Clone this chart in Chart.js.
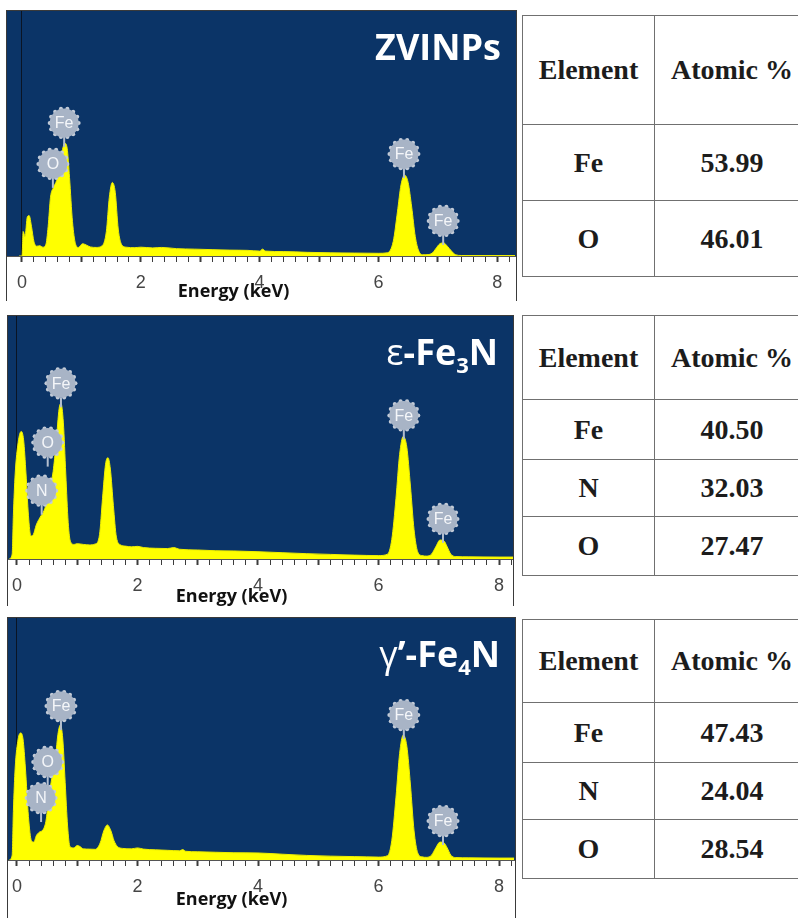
<!DOCTYPE html>
<html>
<head>
<meta charset="utf-8">
<script src="https://cdn.jsdelivr.net/npm/chart.js@4.4.1/dist/chart.umd.min.js"></script>
<style>
body{margin:0;background:#fff;width:798px;height:918px;overflow:hidden;position:relative;}
.panel{position:absolute;border:1px solid #3a3a3a;border-bottom:none;}
.panel canvas{display:block;}
table{position:absolute;width:285px;table-layout:fixed;border-collapse:collapse;font-family:"Liberation Serif","Times New Roman",serif;font-weight:bold;font-size:28px;color:#1c1c1c;}
td{border:1.5px solid #707070;text-align:center;vertical-align:middle;padding:0;white-space:nowrap;}
</style>
</head>
<body>
<div class="panel" style="left:6px;top:10px;"><canvas id="zvi" width="509" height="290"></canvas></div>
<div class="panel" style="left:7px;top:315px;"><canvas id="eps" width="505" height="290"></canvas></div>
<div class="panel" style="left:7px;top:617px;"><canvas id="gam" width="507" height="300"></canvas></div>
<table id="t1" style="left:522px;top:15px;"></table>
<table id="t2" style="left:522px;top:315px;"></table>
<table id="t3" style="left:522px;top:619px;"></table>
<script>
// spectra (energy in keV, counts in arbitrary units)
const zviKeV = [-0.05,0,0.02,0.05,0.09,0.12,0.16,0.2,0.25,0.3,0.35,0.4,0.44,0.48,0.53,0.57,0.62,0.67,0.72,0.76,0.8,0.85,0.9,0.95,1.02,1.08,1.15,1.25,1.35,1.42,1.47,1.52,1.57,1.62,1.68,1.75,1.9,2,2.2,2.35,2.6,2.9,3.2,3.5,3.8,4,4.05,4.1,4.4,4.8,5.2,5.6,6,6.15,6.25,6.32,6.38,6.44,6.5,6.56,6.62,6.68,6.75,6.85,6.92,6.98,7.05,7.1,7.16,7.23,7.3,7.4,8.3];
const zviCounts = [0,0,10,8,16,16.5,12,6,4,4.2,3.6,4.5,12,24,28,30,34,42,46,44,32,14,5,3.5,5,4.5,3.7,3.5,4.2,10,24,30,26,11,4.5,3.6,3.4,3.6,3.3,3.5,3,2.8,2.6,2.4,2.3,2,2.8,2,1.8,1.5,1.3,1.2,1.1,1.3,6,18,29,33,30,20,8,2,0.5,0.6,1.5,3.5,5.2,5.3,4,2,0.5,0.2,0.2];

const epsKeV = [-0.13,-0.08,-0.06,-0.03,0.02,0.07,0.11,0.15,0.19,0.23,0.27,0.32,0.38,0.45,0.5,0.55,0.6,0.65,0.7,0.73,0.77,0.81,0.85,0.89,0.95,1,1.1,1.2,1.3,1.37,1.42,1.47,1.51,1.55,1.6,1.65,1.72,1.8,1.9,2,2.1,2.3,2.5,2.6,2.7,3,3.3,3.6,4,4.4,4.8,5.2,5.6,6,6.15,6.22,6.29,6.35,6.41,6.47,6.53,6.59,6.65,6.72,6.8,6.88,6.95,7.02,7.08,7.14,7.2,7.28,7.5,8,8.25];
const epsCounts = [0,2,18,35,48,52.5,49,35,18,9.5,10,14,17,20,24,30,36,48,62,64,56,35,15,7,6,6.3,6,5.8,6.2,10,25,39,41.7,37,22,9,5.8,5.3,5,5.2,4.7,4.4,4.3,4.7,4,3.7,3.4,3.3,3,2.6,2.2,1.9,1.6,1.4,2,8,25,43,50.4,46,30,12,3,1.4,1.2,2,5,7.8,7.6,5,2,1,0.9,0.8,0.8];

const gamKeV = [-0.13,-0.08,-0.06,-0.03,0.02,0.06,0.1,0.14,0.19,0.24,0.28,0.32,0.37,0.43,0.48,0.53,0.58,0.63,0.68,0.72,0.76,0.8,0.84,0.88,0.94,1,1.05,1.1,1.2,1.3,1.38,1.44,1.5,1.56,1.61,1.67,1.75,1.9,2,2.1,2.3,2.5,2.7,2.75,2.8,3,3.3,3.6,4,4.4,4.8,5.2,5.6,6,6.15,6.22,6.29,6.35,6.41,6.47,6.53,6.59,6.65,6.72,6.8,6.88,6.95,7.02,7.08,7.14,7.2,7.28,7.5,8,8.25];
const gamCounts = [0,2,20,38,50,52.5,50,38,18,8,7.4,10,11.5,12.4,16,26,34,40,52,55.8,50,32,14,5.5,5,6,5.5,4.6,4.5,4.4,7,12,14.5,12,8,5.5,4.8,4.6,5,4.5,4.2,4,3.8,4.3,3.6,3.4,3.2,3,2.9,2.4,1.9,1.6,1.4,1.2,1.8,8,26,44,51.6,47,31,12,3,1.3,1.1,2,5,7.4,7.2,5,2,1,0.9,0.8,0.8];

// element markers: symbol, energy, marker height
const zviMarkEl = ['Fe','O','Fe','Fe'];
const zviMarkKeV = [0.71,0.52,6.43,7.09];
const zviMarkCounts = [54.3,37.6,41.6,14.3];
const epsMarkEl = ['Fe','O','N','Fe','Fe'];
const epsMarkKeV = [0.73,0.51,0.41,6.42,7.07];
const epsMarkCounts = [72.3,47.9,28.1,59.1,16.5];
const gamMarkEl = ['Fe','O','N','Fe','Fe'];
const gamMarkKeV = [0.73,0.51,0.40,6.42,7.07];
const gamMarkCounts = [63.6,40.5,25.6,59.9,16.1];

const tickLabels = [0,2,4,6,8];
const axisTitle = 'Energy (keV)';

// tables
const tableHeader = ['Element','Atomic %'];
const zviElements = ['Fe','O'];
const zviAtomic = ['53.99','46.01'];
const epsElements = ['Fe','N','O'];
const epsAtomic = ['40.50','32.03','27.47'];
const gamElements = ['Fe','N','O'];
const gamAtomic = ['47.43','24.04','28.54'];

const minorTicks = [];
for (let k = 0; k <= 41; k++) minorTicks.push(+(k * 0.2).toFixed(1));

function drawTitle(ctx, str, right, base) {
  // '_3' means subscript 3
  const toks = [];
  for (let i = 0; i < str.length; i++) {
    if (str[i] === '_') { toks.push({t: str[i + 1], sub: true}); i++; }
    else toks.push({t: str[i], greek: /[\u0370-\u03ff]/.test(str[i])});
  }
  const fontOf = tk => tk.sub ? 'bold 22px "Open Sans"' : (tk.greek ? '36px "Open Sans"' : 'bold 36px "Open Sans"');
  let w = 0;
  toks.forEach(tk => { ctx.font = fontOf(tk); tk.w = ctx.measureText(tk.t).width; w += tk.w; });
  let x = right - w;
  ctx.fillStyle = '#fff';
  ctx.textBaseline = 'alphabetic';
  ctx.textAlign = 'left';
  toks.forEach(tk => {
    ctx.font = fontOf(tk);
    ctx.fillText(tk.t, x, base + (tk.sub ? 8 : 0));
    x += tk.w;
  });
}

const panelDeco = {
  id: 'panelDeco',
  beforeDraw(chart) {
    const {ctx, chartArea: a} = chart;
    ctx.save();
    ctx.fillStyle = '#0b3467';
    ctx.fillRect(a.left, a.top, a.width, a.height);
    ctx.restore();
  },
  afterDraw(chart, args, opts) {
    const {ctx, chartArea: a, scales: {x, y}} = chart;
    ctx.save();
    opts.el.forEach((el, i) => {
      const px = x.getPixelForValue(opts.keV[i]);
      const py = y.getPixelForValue(opts.cnt[i]);
      ctx.strokeStyle = '#b4bfcf';
      ctx.lineWidth = 2;
      ctx.beginPath();
      ctx.moveTo(px, py + 14);
      ctx.lineTo(px, py + 24);
      ctx.stroke();
      ctx.fillStyle = '#c3cbd7';
      for (let k = 0; k < 14; k++) {
        const an = k / 14 * Math.PI * 2;
        ctx.beginPath();
        ctx.arc(px + Math.cos(an) * 14.5, py + Math.sin(an) * 14.5, 2, 0, Math.PI * 2);
        ctx.fill();
      }
      ctx.fillStyle = '#a8b4c6';
      ctx.beginPath();
      ctx.arc(px, py, 14.5, 0, Math.PI * 2);
      ctx.fill();
      ctx.fillStyle = '#f4f6f9';
      ctx.font = '16px "Liberation Sans"';
      ctx.textAlign = 'center';
      ctx.textBaseline = 'middle';
      ctx.fillText(el, px, py + 1);
    });
    drawTitle(ctx, opts.title, a.right - 15, a.top + 49);
    ctx.fillStyle = '#111';
    ctx.font = 'bold 18px "Open Sans"';
    ctx.textAlign = 'center';
    ctx.textBaseline = 'middle';
    ctx.fillText(axisTitle, x.getPixelForValue(3.56), a.bottom + opts.titleOff);
    ctx.restore();
  }
};

function makePanel(id, keV, counts, marks, cfg) {
  new Chart(document.getElementById(id), {
    type: 'line',
    data: {
      datasets: [{
        data: keV.map((e, i) => ({x: e, y: counts[i]})),
        borderColor: '#eeee00',
        backgroundColor: '#ffff00',
        borderWidth: 1,
        pointRadius: 0,
        fill: 'origin',
        cubicInterpolationMode: 'monotone'
      }]
    },
    options: {
      responsive: false,
      animation: false,
      events: [],
      layout: {padding: 0},
      plugins: {
        legend: {display: false},
        tooltip: {enabled: false},
        panelDeco: {el: marks[0], keV: marks[1], cnt: marks[2], title: cfg.title, titleOff: cfg.titleOff}
      },
      scales: {
        x: {
          type: 'linear',
          min: cfg.min,
          max: cfg.max,
          afterFit: s => { s.height = cfg.axisH; },
          afterBuildTicks: s => { s.ticks = minorTicks.map(v => ({value: v})); },
          grid: {
            color: c => (c.tick && c.tick.value === 0) ? 'rgba(10,15,25,0.85)' : 'transparent',
            tickColor: '#3c3c3c',
            tickLength: 6,
            tickWidth: c => (c.tick && Number.isInteger(c.tick.value)) ? 2 : 1
          },
          border: {display: true, color: '#555', width: 1},
          ticks: {
            autoSkip: false,
            maxRotation: 0,
            padding: 1,
            color: '#454545',
            font: {family: 'Liberation Sans', size: 18, lineHeight: 2.2},
            callback: v => tickLabels.includes(Math.round(v * 10) / 10) ? String(Math.round(v)) : ''
          }
        },
        y: {display: false, min: 0, max: 100}
      }
    },
    plugins: [panelDeco]
  });
}

makePanel('zvi', zviKeV, zviCounts, [zviMarkEl, zviMarkKeV, zviMarkCounts],
  {min: -0.2525, max: 8.316, axisH: 45, titleOff: 36, title: 'ZVINPs'});
makePanel('eps', epsKeV, epsCounts, [epsMarkEl, epsMarkKeV, epsMarkCounts],
  {min: -0.149, max: 8.232, axisH: 47, titleOff: 38, title: 'ε-Fe_3N'});
makePanel('gam', gamKeV, gamCounts, [gamMarkEl, gamMarkKeV, gamMarkCounts],
  {min: -0.149, max: 8.265, axisH: 58, titleOff: 40, title: 'γ’-Fe_4N'});

function fillTable(id, elements, values, rowH) {
  const t = document.getElementById(id);
  const rows = [tableHeader].concat(elements.map((e, i) => [e, values[i]]));
  rows.forEach((r, i) => {
    const tr = document.createElement('tr');
    tr.style.height = rowH[i] + 'px';
    r.forEach((txt, j) => {
      const td = document.createElement('td');
      td.style.width = (j === 0 ? 131 : 154) + 'px';
      td.textContent = txt;
      tr.appendChild(td);
    });
    t.appendChild(tr);
  });
}
fillTable('t1', zviElements, zviAtomic, [109, 76, 76]);
fillTable('t2', epsElements, epsAtomic, [84, 60, 57, 59]);
fillTable('t3', gamElements, gamAtomic, [83, 60, 57, 59]);
</script>
</body>
</html>
